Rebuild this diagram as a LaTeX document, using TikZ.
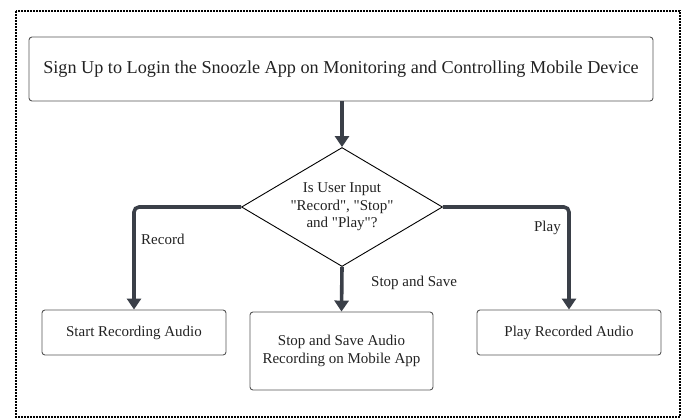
\documentclass[tikz,border=0pt]{standalone}
\usepackage{fontspec}
\setmainfont{Liberation Serif}
\usetikzlibrary{shapes.geometric,arrows.meta}
\definecolor{flowline}{HTML}{3A3F48}
\definecolor{boxline}{HTML}{555555}
\definecolor{txt}{HTML}{222222}
\tikzset{
  procbox/.style={draw=boxline, line width=0.9pt, rounded corners=3pt, align=center, text=txt, inner sep=0pt},
  decision/.style={draw=black, line width=0.9pt, diamond, aspect=1.69, inner sep=0pt, align=center, text=txt},
  flow/.style={draw=flowline, line width=3.6pt, rounded corners=5pt, -{Triangle[width=14pt,length=11pt]}},
  lbl/.style={text=txt, font=\fontsize{15}{18}\selectfont, inner sep=0pt},
}
\newcommand{\qq}[1]{\textquotedbl#1\textquotedbl}
\begin{document}
\begin{tikzpicture}[x=1pt,y=-1pt]
\useasboundingbox (0,0) rectangle (685,418);
% outer dotted frame
\draw[line width=1.8pt, dash pattern=on 1.6pt off 1.4pt] (16,11) rectangle (680,417);

% boxes
\node[procbox, minimum width=624pt, minimum height=64pt, font=\fontsize{18.2}{21}\selectfont] (signup) at (341,69)
  {Sign Up to Login the Snoozle App on Monitoring and Controlling Mobile Device};
\node[decision, minimum width=201pt, minimum height=119pt, font=\fontsize{15}{17.5}\selectfont] (ask) at (342,207)
  {Is User Input\\\qq{Record}, \qq{Stop}\\and \qq{Play}?};
\node[procbox, minimum width=184pt, minimum height=45pt, font=\fontsize{15}{18}\selectfont] (rec) at (134,332.5)
  {Start Recording Audio};
\node[procbox, minimum width=183pt, minimum height=78pt, font=\fontsize{15}{18}\selectfont] (save) at (341.5,351)
  {Stop and Save Audio\\Recording on Mobile App};
\node[procbox, minimum width=184pt, minimum height=45pt, font=\fontsize{15}{18}\selectfont] (play) at (569,332.5)
  {Play Recorded Audio};

% connectors
\draw[flow] (signup.south -| ask.north) -- (ask.north);
\draw[flow] (ask.west) -| (rec.north);
\draw[flow] (ask.east) -| (play.north);
\draw[flow] (ask.south) -- (save.north);

% connector labels
\node[lbl, anchor=west] (lrec) at (141,239) {Record};
\node[lbl, anchor=east] (lplay) at (561,228) {Play};
\node[lbl, anchor=west] (lsave) at (371,283) {Stop and Save};
\end{tikzpicture}
\end{document}
